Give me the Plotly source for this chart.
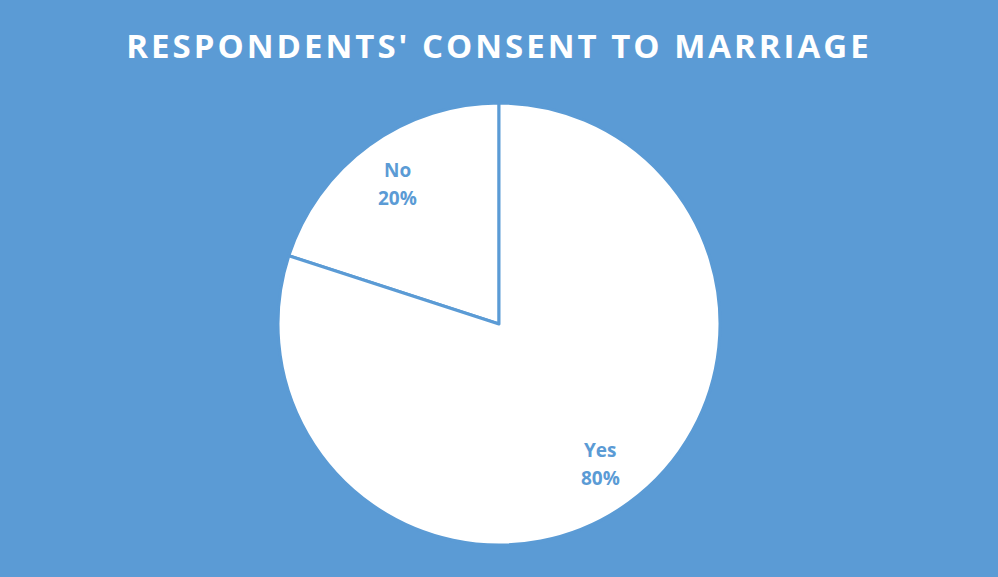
import math
import plotly.graph_objects as go

labels = ["No", "Yes"]
values = [20, 80]

BG = "#5B9BD5"
W, H = 998, 577

# pie geometry in pixels
cx, cy, R = 499, 324, 221
dom_x = [(cx - R) / W, (cx + R) / W]
dom_y = [(H - cy - R) / H, (H - cy + R) / H]

total = sum(values)
# "No" ends at 12 o'clock, so start the clockwise sweep one slice earlier
start_deg = -360.0 * values[0] / total

fig = go.Figure(go.Pie(
    labels=labels,
    values=values,
    sort=False,
    direction="clockwise",
    rotation=start_deg,
    marker=dict(colors=["#FFFFFF", "#FFFFFF"], line=dict(color=BG, width=3)),
    textinfo="none",
    hoverinfo="label+percent",
    showlegend=False,
    domain=dict(x=dom_x, y=dom_y),
))

# slice labels (name over percentage) at the mid-angle of each slice
start = 0.0
annotations = []
label_font = dict(family="Open Sans", size=19, color=BG, weight="bold")
for lab, v in zip(labels, values):
    frac = v / total
    mid = (start + frac / 2) * 2 * math.pi  # counterclockwise from 12 o'clock
    r = 0.785 * R
    px = cx - r * math.sin(mid)
    py = cy - r * math.cos(mid)
    for txt, shift in ((lab, 14), (f"{round(frac * 100)}%", -14)):
        annotations.append(dict(
            x=px / W, y=1 - py / H, xref="paper", yref="paper",
            xanchor="center", yanchor="middle", yshift=shift,
            text=txt, showarrow=False, font=label_font,
        ))
    start += frac

fig.update_layout(
    width=W, height=H,
    margin=dict(l=0, r=0, t=0, b=0),
    paper_bgcolor=BG,
    plot_bgcolor=BG,
    title=dict(
        text="<span style='letter-spacing:3px'>RESPONDENTS' CONSENT TO MARRIAGE</span>",
        x=0.5, xanchor="center",
        y=1 - 46 / H, yanchor="middle",
        font=dict(family="Open Sans", size=33, color="white", weight="bold"),
    ),
    annotations=annotations,
)

fig.write_html("out.html")
